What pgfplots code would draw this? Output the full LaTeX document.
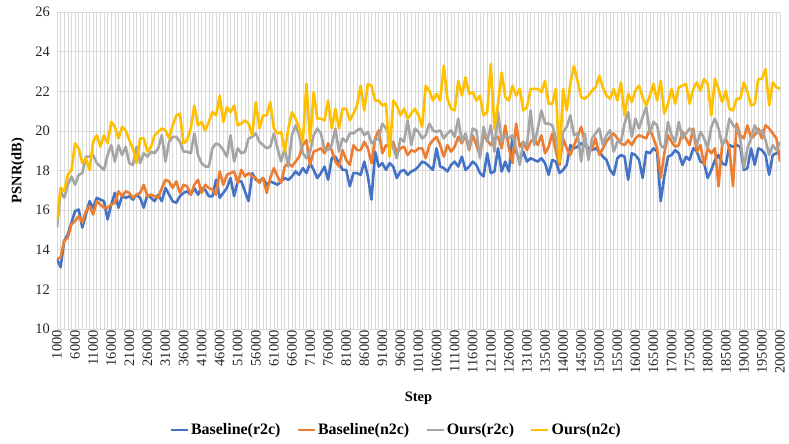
\documentclass[border=0pt]{standalone}
\usepackage{pgfplots}
\pgfplotsset{compat=1.18}
\usepackage{pgfplotstable}
\usepackage{fontspec}
\setmainfont{Liberation Serif}
\definecolor{cA}{HTML}{4472C4}
\definecolor{cB}{HTML}{ED7D31}
\definecolor{cC}{HTML}{A5A5A5}
\definecolor{cD}{HTML}{FFC000}
\definecolor{gridc}{HTML}{D9D9D9}

% Baseline(r2c)
\pgfplotstableread[row sep=\\]{y\\
13.53\\13.12\\14.45\\14.78\\15.37\\15.95\\16.03\\15.12\\15.78\\16.45\\
16.12\\16.62\\16.53\\16.45\\15.53\\16.28\\16.87\\16.12\\16.70\\16.62\\
16.70\\16.53\\16.78\\16.62\\16.12\\16.78\\16.62\\16.45\\16.78\\16.45\\
17.12\\16.78\\16.45\\16.37\\16.70\\16.87\\16.95\\16.78\\17.12\\16.78\\
17.12\\17.03\\16.70\\16.70\\17.53\\16.62\\16.87\\17.12\\17.62\\16.70\\
17.45\\17.45\\16.95\\16.45\\17.87\\17.53\\17.45\\17.62\\17.28\\17.45\\
17.37\\17.28\\17.45\\17.62\\17.53\\17.70\\17.95\\17.78\\18.12\\17.87\\
18.37\\18.03\\17.62\\17.87\\18.20\\17.53\\18.62\\18.70\\18.37\\18.03\\
18.03\\17.20\\17.87\\17.87\\17.78\\18.45\\17.70\\16.53\\18.95\\18.20\\
18.37\\18.03\\18.37\\18.20\\17.62\\17.95\\18.03\\17.78\\17.95\\18.03\\
18.20\\18.45\\18.37\\18.20\\18.03\\19.12\\18.20\\18.12\\17.95\\18.28\\
18.45\\18.20\\18.70\\18.03\\18.20\\18.45\\18.28\\17.87\\17.70\\18.87\\
17.87\\17.95\\19.12\\17.95\\18.45\\17.95\\19.70\\18.95\\18.53\\18.95\\
18.45\\18.62\\18.53\\18.45\\18.62\\18.37\\17.78\\18.53\\18.45\\17.87\\
18.03\\18.28\\19.28\\19.12\\19.20\\19.37\\19.28\\19.12\\19.03\\19.12\\
18.95\\18.70\\18.53\\18.03\\17.78\\18.62\\18.78\\18.70\\17.53\\18.87\\
18.78\\18.53\\17.62\\18.95\\18.87\\19.12\\18.95\\16.45\\17.70\\18.70\\
18.78\\19.03\\18.87\\18.28\\18.70\\18.53\\19.12\\18.95\\18.45\\18.37\\
17.62\\18.03\\18.53\\18.78\\18.37\\18.28\\19.28\\19.20\\19.28\\19.20\\
18.03\\18.12\\19.12\\18.28\\19.12\\19.03\\18.78\\17.78\\18.78\\18.87\\
18.95\\
}\tblA
% Baseline(n2c)
\pgfplotstableread[row sep=\\]{y\\
13.53\\13.62\\14.45\\14.62\\15.28\\15.45\\15.70\\15.37\\15.95\\16.20\\
15.78\\16.45\\16.28\\16.12\\16.12\\16.28\\16.37\\16.95\\16.70\\16.95\\
16.87\\16.62\\16.78\\16.87\\17.28\\16.70\\16.78\\16.70\\16.62\\17.12\\
17.53\\17.45\\17.12\\17.45\\16.87\\17.28\\17.20\\16.78\\17.28\\17.53\\
16.87\\17.28\\17.12\\17.03\\16.78\\17.95\\17.28\\17.78\\17.87\\17.95\\
17.37\\18.03\\17.70\\17.87\\17.70\\17.62\\17.37\\17.62\\16.87\\17.62\\
18.12\\17.70\\17.37\\18.20\\18.37\\18.20\\18.45\\18.70\\19.28\\19.53\\
18.28\\18.95\\19.03\\19.12\\18.87\\19.37\\19.03\\18.45\\18.20\\19.03\\
18.53\\18.28\\19.28\\19.03\\19.03\\19.45\\19.12\\18.37\\19.62\\20.03\\
18.87\\19.28\\19.20\\19.45\\18.87\\19.12\\19.20\\18.78\\19.03\\18.95\\
19.12\\19.12\\18.62\\19.28\\19.53\\19.70\\19.28\\18.70\\19.28\\18.95\\
19.20\\19.70\\19.37\\19.78\\19.03\\19.78\\19.28\\18.78\\19.78\\19.53\\
19.28\\19.62\\19.70\\19.12\\20.28\\19.12\\18.37\\20.37\\19.20\\19.45\\
19.03\\19.45\\19.62\\19.28\\19.78\\18.87\\19.20\\19.87\\18.95\\18.28\\
19.62\\19.12\\18.78\\19.28\\19.70\\20.20\\19.45\\18.87\\19.12\\19.62\\
18.78\\19.12\\19.45\\19.70\\19.87\\19.62\\19.37\\19.28\\19.53\\19.28\\
19.62\\19.78\\19.70\\19.62\\20.12\\19.62\\19.12\\17.62\\18.87\\19.78\\
19.45\\19.20\\19.28\\19.95\\19.62\\19.28\\20.12\\18.95\\19.28\\18.28\\
19.12\\18.87\\19.12\\17.20\\19.28\\19.62\\19.12\\17.20\\20.37\\19.78\\
19.62\\20.28\\19.62\\19.78\\20.12\\19.62\\20.28\\20.12\\19.87\\19.62\\
18.45\\
}\tblB
% Ours(r2c)
\pgfplotstableread[row sep=\\]{y\\
15.12\\16.95\\16.62\\17.28\\17.70\\17.28\\17.78\\17.87\\18.70\\18.70\\
18.78\\18.37\\18.20\\18.03\\18.78\\19.28\\18.45\\19.28\\18.78\\19.20\\
18.37\\18.28\\19.20\\18.37\\18.87\\18.70\\18.95\\18.87\\19.12\\19.78\\
18.45\\19.45\\19.70\\19.70\\19.45\\18.95\\18.95\\18.87\\19.87\\18.78\\
18.37\\18.20\\18.20\\19.12\\19.37\\19.28\\19.03\\18.70\\19.78\\18.45\\
19.12\\18.87\\18.95\\19.62\\19.70\\19.87\\19.45\\19.28\\19.12\\19.20\\
19.87\\19.12\\18.45\\19.12\\18.20\\19.78\\20.28\\19.78\\18.87\\18.62\\
18.95\\19.78\\20.12\\19.87\\19.03\\19.03\\19.28\\20.12\\18.95\\19.62\\
19.45\\19.87\\19.87\\20.03\\20.12\\19.78\\19.95\\19.37\\19.53\\19.62\\
20.37\\20.12\\19.78\\19.12\\18.62\\19.62\\19.45\\20.53\\19.28\\20.12\\
19.95\\19.62\\19.78\\20.37\\20.03\\19.95\\20.03\\19.62\\19.87\\20.03\\
19.70\\20.62\\19.45\\19.87\\19.12\\20.12\\20.03\\18.62\\20.20\\19.45\\
20.28\\18.95\\20.95\\19.45\\19.78\\19.62\\19.78\\19.12\\18.28\\19.45\\
19.28\\21.03\\19.28\\20.12\\21.03\\20.37\\20.37\\20.28\\19.62\\18.45\\
19.95\\20.20\\20.78\\19.78\\19.87\\18.45\\19.87\\18.53\\19.62\\19.87\\
20.12\\19.28\\19.78\\20.03\\18.95\\19.45\\19.45\\20.37\\20.95\\19.70\\
20.62\\20.12\\20.70\\21.20\\19.87\\20.45\\20.28\\19.28\\19.12\\20.45\\
19.78\\19.45\\20.45\\19.62\\19.87\\20.12\\19.95\\19.28\\19.95\\19.62\\
19.12\\20.20\\20.62\\20.12\\19.28\\19.62\\20.62\\20.28\\20.12\\19.62\\
18.12\\19.12\\19.62\\20.28\\19.87\\20.03\\19.53\\18.78\\19.28\\19.03\\
19.45\\
}\tblC
% Ours(n2c)
\pgfplotstableread[row sep=\\]{y\\
15.53\\17.12\\16.95\\17.78\\18.03\\19.37\\19.12\\18.37\\18.62\\18.03\\
19.45\\19.78\\19.20\\19.78\\19.37\\20.45\\20.20\\19.62\\20.20\\20.03\\
19.53\\19.12\\18.37\\19.62\\19.62\\18.95\\19.20\\19.78\\19.95\\20.12\\
20.03\\19.62\\20.28\\20.78\\20.87\\19.37\\19.53\\20.12\\21.28\\20.28\\
20.45\\20.03\\20.45\\20.95\\20.78\\21.78\\20.45\\21.20\\20.95\\21.28\\
20.28\\20.37\\20.53\\20.37\\19.78\\21.45\\20.12\\20.78\\20.78\\21.45\\
20.12\\19.87\\19.95\\18.95\\20.12\\20.95\\20.62\\20.12\\19.45\\22.37\\
19.45\\21.95\\20.62\\20.62\\20.53\\21.53\\20.12\\21.12\\20.12\\21.12\\
21.12\\20.53\\20.87\\21.28\\22.28\\21.03\\22.37\\22.28\\21.53\\21.53\\
21.28\\21.37\\18.70\\21.53\\21.28\\20.78\\21.12\\20.62\\20.87\\21.12\\
20.78\\20.20\\22.28\\22.03\\21.53\\21.87\\21.53\\23.28\\21.62\\21.12\\
21.03\\22.53\\21.78\\22.70\\21.87\\21.95\\21.53\\21.78\\20.78\\20.95\\
23.37\\20.12\\21.37\\22.95\\21.70\\21.53\\22.28\\21.78\\22.12\\21.03\\
21.20\\22.12\\22.12\\22.12\\21.95\\22.53\\21.37\\21.37\\22.12\\18.45\\
22.12\\21.03\\22.37\\23.28\\22.53\\21.70\\21.62\\21.78\\22.03\\22.20\\
22.78\\22.20\\21.78\\21.62\\22.12\\21.53\\22.45\\20.78\\21.87\\21.45\\
22.03\\22.28\\21.70\\21.28\\21.78\\22.37\\21.53\\22.53\\20.87\\21.37\\
22.12\\21.37\\22.20\\22.28\\22.37\\21.37\\22.12\\22.45\\22.03\\22.62\\
22.37\\20.78\\22.62\\22.12\\21.45\\22.03\\21.12\\21.03\\21.62\\21.62\\
22.45\\21.95\\21.28\\21.37\\22.62\\22.62\\23.12\\21.28\\22.45\\22.20\\
22.12\\
}\tblD

\begin{document}
\begin{tikzpicture}
\useasboundingbox (-57bp,-115bp) rectangle (732bp,329bp);
\begin{axis}[
  anchor=south west, at={(0,0)},
  scale only axis, width=723bp, height=317bp,
  xmin=0, xmax=200, ymin=10, ymax=26,
  ytick={10,12,...,26},
  xtick={0,5,...,200},
  xticklabels={1000,6000,11000,16000,21000,26000,31000,36000,41000,46000,51000,56000,61000,66000,71000,76000,81000,86000,91000,96000,101000,106000,111000,116000,121000,126000,131000,135000,140000,145000,150000,155000,160000,165000,170000,175000,180000,185000,190000,195000,200000},
  minor xtick={0,1,...,200},
  xmajorgrids, xminorgrids, ymajorgrids,
  major grid style={draw=gridc, line width=0.6pt},
  minor grid style={draw=gridc, line width=0.6pt},
  axis line style={draw=none},
  tick style={draw=none},
  /pgf/number format/assume math mode=true,
  ticklabel style={font=\fontsize{14.5}{16}\selectfont, text=black!85},
  xticklabel style={rotate=90, anchor=east, inner sep=1pt},
  yticklabel style={inner sep=1pt, xshift=-6bp},
  xlabel={\textbf{Step}},
  ylabel={\textbf{PSNR(dB)}},
  label style={font=\fontsize{14.5}{16}\selectfont},
  xlabel style={at={(axis description cs:0.5,-0.218)}, anchor=center},
  ylabel style={at={(axis description cs:-0.054,0.5)}, anchor=center},
  legend columns=4,
  legend style={at={(axis description cs:0.469,-0.319)}, anchor=center, draw=none,
    font=\bfseries\fontsize{16}{18}\selectfont,
    /tikz/every even column/.append style={column sep=14bp}},
  legend image code/.code={\draw[#1, line width=2.6pt] (0bp,0bp) -- (17bp,0bp);},
  every axis plot/.append style={line width=2.6pt, line join=round},
]
\addplot[cA, no marks] table[x expr=\coordindex, y=y] {\tblA};
\addlegendentry{Baseline(r2c)}
\addplot[cB, no marks] table[x expr=\coordindex, y=y] {\tblB};
\addlegendentry{Baseline(n2c)}
\addplot[cC, no marks] table[x expr=\coordindex, y=y] {\tblC};
\addlegendentry{Ours(r2c)}
\addplot[cD, no marks] table[x expr=\coordindex, y=y] {\tblD};
\addlegendentry{Ours(n2c)}
\end{axis}
\end{tikzpicture}
\end{document}
